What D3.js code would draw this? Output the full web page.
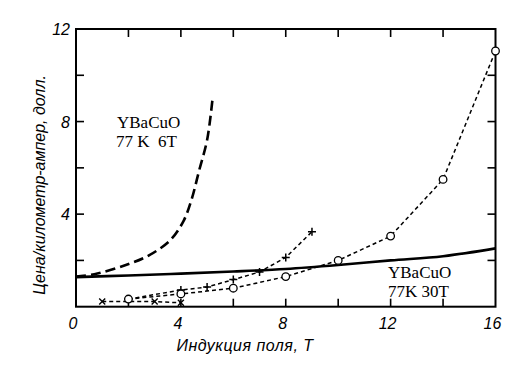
<!DOCTYPE html>
<html><head><meta charset="utf-8">
<script src="https://cdn.jsdelivr.net/npm/d3@7"></script>
<style>body{margin:0;background:#fff}svg{display:block}</style>
</head><body>
<script>
// Data
const xTickLabels = [0, 4, 8, 12, 16];
const yTickLabels = [4, 8, 12];
const minorX = [2, 4, 6, 8, 10, 12, 14];
const minorY = [2, 4, 6, 8, 10];
// 77K 6T (long dashed)
const k6X = [0, 0.7, 1.9, 2.8, 3.6, 4.1, 4.4, 4.7, 5.0, 5.2];
const k6Y = [1.3, 1.4, 1.8, 2.23, 2.88, 3.7, 4.6, 5.9, 7.2, 8.9];
// 77K 30T (solid)
const k30X = [0, 2, 4, 6, 8, 10, 12, 14, 16];
const k30Y = [1.28, 1.35, 1.43, 1.52, 1.63, 1.8, 2.0, 2.18, 2.52];
// circle series
const circX = [2, 4, 6, 8, 10, 12, 14, 16];
const circY = [0.33, 0.55, 0.8, 1.3, 2.0, 3.05, 5.5, 11.05];
// plus series
const plusX = [2, 4, 5, 6, 7, 8, 9];
const plusY = [0.33, 0.72, 0.85, 1.17, 1.5, 2.13, 3.24];
// cross series
const crossX = [1, 3, 4];
const crossY = [0.22, 0.22, 0.17];

const W = 522, H = 383;
const svg = d3.select("body").append("svg").attr("width", W).attr("height", H);
const x = d3.scaleLinear().domain([0, 16]).range([76, 495.5]);
const y = d3.scaleLinear().domain([0, 12]).range([306.7, 29]);
const zip = (a, b) => a.map((v, i) => [v, b[i]]);

const tickFont = "Liberation Sans, Arial, sans-serif";
const serif = "Liberation Serif, Times New Roman, serif";

// frame
svg.append("rect").attr("x", x(0)).attr("y", y(12)).attr("width", x(16) - x(0)).attr("height", y(0) - y(12))
  .attr("fill", "none").attr("stroke", "#000").attr("stroke-width", 2);

// ticks (inward)
const tl = 8;
const g = svg.append("g").attr("stroke", "#000").attr("stroke-width", 1.6);
minorX.forEach(v => {
  g.append("line").attr("x1", x(v)).attr("x2", x(v)).attr("y1", y(0)).attr("y2", y(0) - tl);
  g.append("line").attr("x1", x(v)).attr("x2", x(v)).attr("y1", y(12)).attr("y2", y(12) + tl);
});
minorY.forEach(v => {
  g.append("line").attr("x1", x(0)).attr("x2", x(0) + tl).attr("y1", y(v)).attr("y2", y(v));
  g.append("line").attr("x1", x(16)).attr("x2", x(16) - tl).attr("y1", y(v)).attr("y2", y(v));
});

// tick labels
xTickLabels.forEach(v => {
  svg.append("text").attr("x", x(v) - 3).attr("y", 329).attr("text-anchor", "middle")
    .attr("font-family", tickFont).attr("font-style", "italic").attr("font-size", 16).text(v);
});
yTickLabels.forEach(v => {
  svg.append("text").attr("x", 70).attr("y", y(v) + 6).attr("text-anchor", "end")
    .attr("font-family", tickFont).attr("font-style", "italic").attr("font-size", 16).text(v);
});

// axis titles
svg.append("text").attr("x", 245).attr("y", 351).attr("text-anchor", "middle")
  .attr("font-family", tickFont).attr("font-style", "italic").attr("font-size", 16).attr("letter-spacing", 0.5)
  .text("Индукция поля, Т");
svg.append("text").attr("transform", "translate(45,185) rotate(-90)").attr("text-anchor", "middle")
  .attr("font-family", tickFont).attr("font-style", "italic").attr("font-size", 16)
  .text("Цена/километр-ампер, долл.");

// annotations
const ann = [["YBaCuO", 117, 128], ["77 K  6T", 116, 147], ["YBaCuO", 388, 278], ["77K 30T", 388, 297]];
ann.forEach(a => {
  svg.append("text").attr("x", a[1]).attr("y", a[2]).attr("font-family", serif).attr("font-size", 17)
    .style("white-space", "pre").text(a[0]);
});

const lineLin = d3.line().x(d => x(d[0])).y(d => y(d[1]));
const lineCurve = d3.line().x(d => x(d[0])).y(d => y(d[1])).curve(d3.curveCatmullRom.alpha(0.5));

// solid 30T
svg.append("path").attr("d", lineCurve(zip(k30X, k30Y))).attr("fill", "none").attr("stroke", "#000").attr("stroke-width", 2.6);
// long dashed 6T
svg.append("path").attr("d", lineCurve(zip(k6X, k6Y))).attr("fill", "none").attr("stroke", "#000")
  .attr("stroke-width", 2.6).attr("stroke-dasharray", "10,5");
// short dashed series
[[circX, circY], [plusX, plusY], [crossX, crossY]].forEach(s => {
  svg.append("path").attr("d", lineLin(zip(s[0], s[1]))).attr("fill", "none").attr("stroke", "#000")
    .attr("stroke-width", 1.5).attr("stroke-dasharray", "4,3");
});

// markers
zip(plusX, plusY).forEach(d => {
  const cx = x(d[0]), cy = y(d[1]);
  svg.append("path").attr("d", `M${cx - 4},${cy}H${cx + 4}M${cx},${cy - 4}V${cy + 4}`).attr("stroke", "#000").attr("stroke-width", 1.5);
});
zip(crossX, crossY).forEach(d => {
  const cx = x(d[0]), cy = y(d[1]);
  svg.append("path").attr("d", `M${cx - 3},${cy - 3}L${cx + 3},${cy + 3}M${cx - 3},${cy + 3}L${cx + 3},${cy - 3}`).attr("stroke", "#000").attr("stroke-width", 1.4);
});
zip(circX, circY).forEach(d => {
  svg.append("circle").attr("cx", x(d[0])).attr("cy", y(d[1])).attr("r", 3.8)
    .attr("fill", "#fff").attr("stroke", "#000").attr("stroke-width", 1.3);
});
</script>
</body></html>
